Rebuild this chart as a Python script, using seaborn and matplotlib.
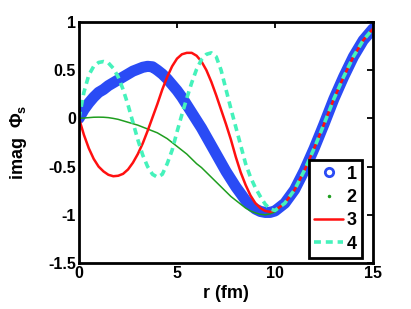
import numpy as np
import pandas as pd
import matplotlib
matplotlib.use("Agg")
import matplotlib.pyplot as plt
from matplotlib.lines import Line2D
import seaborn as sns

# ---------------- data ----------------
r = [0.0, 0.25, 0.5, 0.75, 1.0, 1.25, 1.5, 1.75, 2.0, 2.25, 2.5, 2.75, 3.0, 3.25, 3.5, 3.75,
     4.0, 4.25, 4.5, 4.75, 5.0, 5.25, 5.5, 5.75, 6.0, 6.25, 6.5, 6.75, 7.0, 7.25, 7.5, 7.75,
     8.0, 8.25, 8.5, 8.75, 9.0, 9.25, 9.5, 9.75, 10.0,
     10.5, 11.0, 11.5, 12.0, 12.5, 13.0, 13.5, 14.0, 14.5, 15.0]

phi1 = [0, 0.09, 0.16, 0.22, 0.27, 0.30, 0.34, 0.37, 0.40, 0.43, 0.46, 0.49, 0.51, 0.53, 0.54, 0.535,
        0.50, 0.46, 0.41, 0.35, 0.29, 0.22, 0.14, 0.06, -0.02, -0.10, -0.19, -0.28, -0.37, -0.46, -0.55, -0.63,
        -0.71, -0.78, -0.85, -0.90, -0.94, -0.965, -0.975, -0.975, -0.96,
        -0.88, -0.74, -0.54, -0.31, -0.06, 0.20, 0.43, 0.64, 0.81, 0.93]

phi2 = [0, 0.004, 0.008, 0.012, 0.013, 0.012, 0.008, 0.0, -0.01, -0.025, -0.04, -0.055, -0.07, -0.09, -0.11, -0.13,
        -0.15, -0.18, -0.21, -0.25, -0.29, -0.33, -0.37, -0.42, -0.47, -0.51, -0.56, -0.61, -0.66, -0.71, -0.76, -0.81,
        -0.85, -0.89, -0.93, -0.96, -0.98, -0.995, -1.0, -0.99, -0.97,
        -0.88, -0.74, -0.54, -0.31, -0.06, 0.20, 0.43, 0.64, 0.81, 0.93]

phi3 = [0, -0.17, -0.31, -0.42, -0.50, -0.55, -0.585, -0.60, -0.595, -0.575, -0.53, -0.46, -0.37, -0.26, -0.13, 0.01,
        0.15, 0.30, 0.43, 0.54, 0.62, 0.665, 0.68, 0.68, 0.65, 0.59, 0.50, 0.38, 0.24, 0.09, -0.06, -0.22,
        -0.40, -0.56, -0.69, -0.80, -0.88, -0.93, -0.96, -0.97, -0.955,
        -0.88, -0.74, -0.54, -0.31, -0.06, 0.20, 0.43, 0.64, 0.81, 0.93]

phi4 = [0, 0.27, 0.45, 0.54, 0.58, 0.59, 0.575, 0.52, 0.43, 0.30, 0.14, -0.04, -0.22, -0.38, -0.50, -0.58,
        -0.61, -0.58, -0.47, -0.33, -0.14, 0.04, 0.21, 0.37, 0.51, 0.61, 0.665, 0.68, 0.64, 0.50, 0.30, 0.10,
        -0.09, -0.28, -0.47, -0.61, -0.72, -0.81, -0.89, -0.94, -0.955,
        -0.88, -0.74, -0.54, -0.31, -0.06, 0.20, 0.43, 0.64, 0.81, 0.93]

series_labels = ["1", "2", "3", "4"]
x_ticks = [0, 5, 10, 15]
y_ticks = [-1.5, -1, -0.5, 0, 0.5, 1]
y_ticklabels = ["-1.5", "-1", "-0.5", "0", "0.5", "1"]

# ---------------- style ----------------
sns.set_theme(style="white")
plt.rcParams["font.family"] = ["Liberation Sans", "DejaVu Sans"]
plt.rcParams["font.weight"] = "bold"
plt.rcParams["text.color"] = "black"
plt.rcParams["axes.labelcolor"] = "black"
plt.rcParams["xtick.color"] = "black"
plt.rcParams["ytick.color"] = "black"
plt.rcParams["mathtext.fontset"] = "custom"
plt.rcParams["mathtext.rm"] = "Liberation Sans"
plt.rcParams["mathtext.it"] = "Liberation Sans"
plt.rcParams["mathtext.bf"] = "Liberation Sans:bold"
plt.rcParams["lines.scale_dashes"] = False

c_blue = "#2a4bf5"
c_green = "#1f9e1f"
c_red = "#ff1010"
c_cyan = "#45f2bb"

fig = plt.figure(figsize=(4.11, 3.09), dpi=100)
ax = fig.add_axes([79 / 411, 46 / 309, 294 / 411, 241 / 309])

df = pd.DataFrame({"r": r, "1": phi1, "2": phi2, "3": phi3, "4": phi4})

sns.lineplot(data=df, x="r", y="1", ax=ax, color=c_blue, linewidth=8.0,
             solid_capstyle="round", solid_joinstyle="round", legend=False)
sns.lineplot(data=df, x="r", y="2", ax=ax, color=c_green, linewidth=1.1, legend=False)
sns.lineplot(data=df, x="r", y="3", ax=ax, color=c_red, linewidth=1.8, legend=False)
sns.lineplot(data=df, x="r", y="4", ax=ax, color=c_cyan, linewidth=2.6, legend=False)
ax.lines[-1].set_dashes((5, 3.5))

ax.set_xlim(0, 15)
ax.set_ylim(-1.5, 1)
ax.set_xticks(x_ticks)
ax.set_xticklabels([str(t) for t in x_ticks])
ax.set_yticks(y_ticks)
ax.set_yticklabels(y_ticklabels)
ax.tick_params(direction="in", length=4, width=1.3, top=True, right=True,
               labelsize=11.5, pad=2, colors="black", labelcolor="black")
for lab in ax.get_xticklabels() + ax.get_yticklabels():
    lab.set_fontweight("bold")
for sp in ax.spines.values():
    sp.set_linewidth(2.0)
    sp.set_color("black")

ax.set_xlabel("r (fm)", fontsize=13, fontweight="bold", labelpad=3, color="black")
ax.set_ylabel(r"imag  $\mathbf{\Phi}_{\mathbf{s}}$", fontsize=13, fontweight="bold",
              labelpad=14, color="black")

handles = [
    Line2D([], [], color=c_blue, marker="o", mfc="none", mec=c_blue, mew=2, ms=6, ls="none"),
    Line2D([], [], color=c_green, marker=".", ms=3, ls="none"),
    Line2D([], [], color=c_red, lw=1.8),
    Line2D([], [], color=c_cyan, lw=2.6, dashes=(5, 3.5)),
]
leg = ax.legend(handles, series_labels, loc="lower right", bbox_to_anchor=(0.963, 0.021),
                borderaxespad=0, fancybox=False, framealpha=1, edgecolor="black",
                prop={"size": 13, "weight": "bold"}, handlelength=1.6, handletextpad=0.2,
                labelspacing=0.35, borderpad=0.3)
leg.get_frame().set_linewidth(2.0)
for t in leg.get_texts():
    t.set_color("black")

fig.savefig("out.png", dpi=100)
